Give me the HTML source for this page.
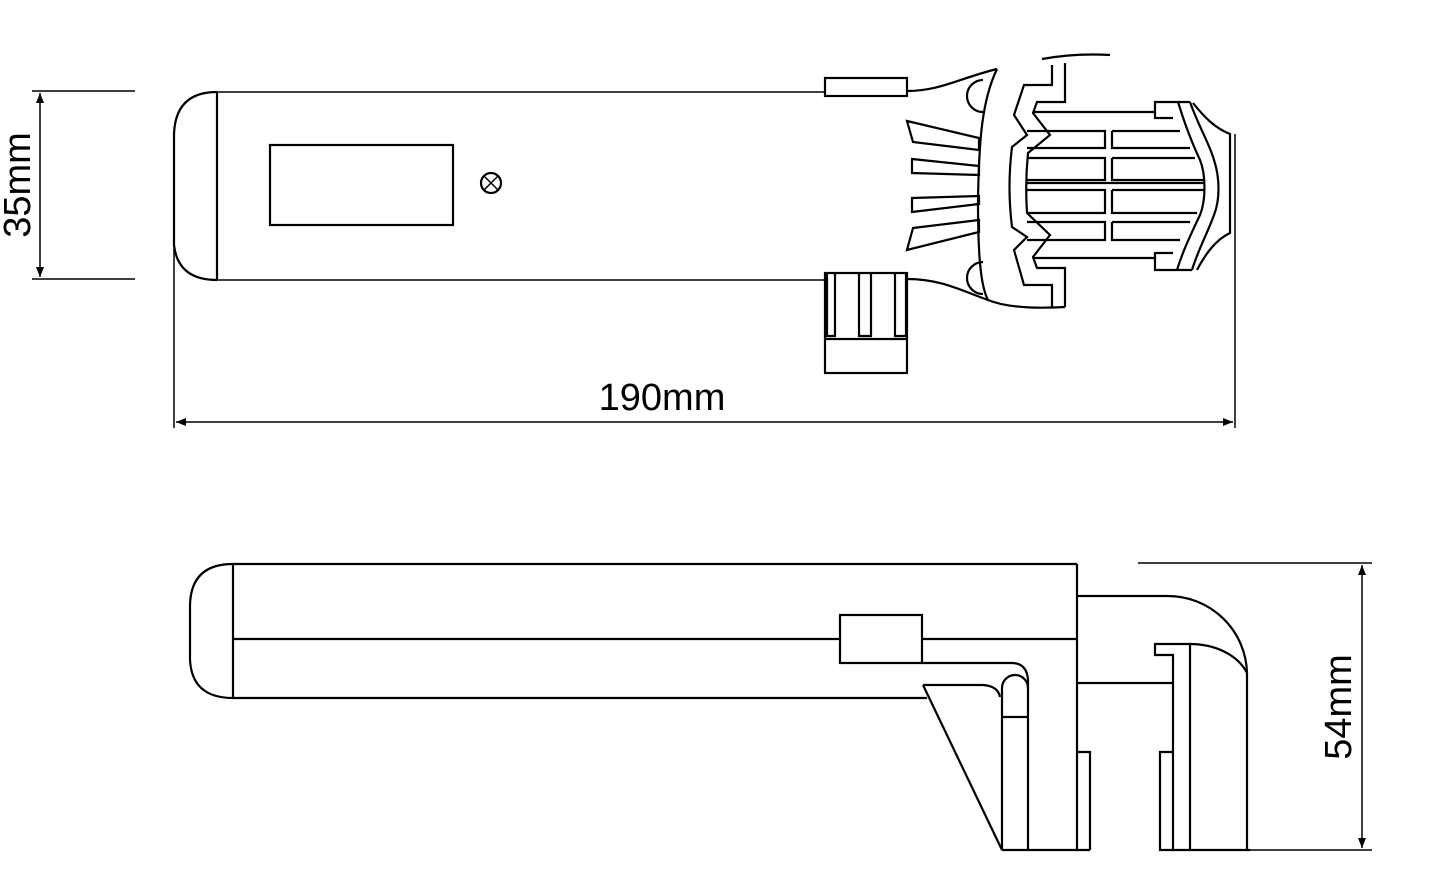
<!DOCTYPE html>
<html><head><meta charset="utf-8"><style>
html,body{margin:0;padding:0;background:#fff;}
svg{display:block}
text{font-family:"Liberation Sans",sans-serif;fill:#000}
</style></head><body>
<svg width="1438" height="895" viewBox="0 0 1438 895" xmlns="http://www.w3.org/2000/svg">
<defs>
<marker id="a" viewBox="0 0 10 10" refX="10" refY="5" markerWidth="18" markerHeight="10" markerUnits="userSpaceOnUse" orient="auto-start-reverse"><path d="M0,1 L10,5 L0,9 z" fill="#000"/></marker>
</defs>
<g fill="none" stroke="#000" stroke-width="2.2">
<!-- TOP VIEW -->
<line x1="32" y1="91" x2="135" y2="91" stroke-width="1.5"/>
<line x1="32" y1="279" x2="135" y2="279" stroke-width="1.5"/>
<line x1="40" y1="93" x2="40" y2="277" stroke-width="1.5" marker-start="url(#a)" marker-end="url(#a)"/>
<path d="M217,92 Q175,92 174,135 V245 Q178,280 217,280"/>
<line x1="174" y1="245" x2="174" y2="428" stroke-width="1.5"/>
<line x1="217" y1="92" x2="217" y2="280"/>
<line x1="217" y1="92" x2="825" y2="92" stroke-width="1.5"/>
<line x1="217" y1="280" x2="825" y2="280" stroke-width="1.5"/>
<rect x="270" y="145" width="183" height="80"/>
<circle cx="491" cy="183" r="10"/>
<path d="M484,176 L498,190 M498,176 L484,190" stroke-width="1.5"/>
<rect x="825" y="78" width="82" height="18"/>
<path d="M907,91 C940,91 960,78 997,69"/>
<path d="M983,80 A16,16 0 0 0 983,112"/>
<path d="M983,262 A16,16 0 0 0 983,294"/>
<path d="M997,69 C982,100 979,140 978,200 C978,250 980,285 988,300 C1005,307 1030,309 1065,307"/>
<rect x="825" y="273" width="82" height="100"/>
<path d="M827,273 V336 H835 V273 M859,273 V336 H871 V273 M895,273 V336 H906 V273 M825,339 H907"/>
<path d="M907,279 C940,279 960,290 988,300"/>
<path d="M907,121 L979,138 L979,150 L913,142 Z"/>
<path d="M912,159 L979,166 L979,175 L912,173 Z"/>
<path d="M912,198 L979,196 L979,204 L912,212 Z"/>
<path d="M913,228 L979,220 L979,232 L907,250 Z"/>
<path d="M1052,65 V85 H1024 L1014,115 L1027,135 L1012,147 Q1007,187 1012,227 L1027,237 L1014,250 L1024,285 H1052 V307"/>
<path d="M1065,63 V102 H1037 L1033,113 L1050,135 L1028,153 Q1025,183 1027,213 L1050,235 L1033,257 L1037,268 H1065 V307"/>
<path d="M1042,59 Q1075,53 1110,55"/>
<path d="M1033,112 H1155 V102 H1190 M1033,258 H1155 V270 H1192"/>
<path d="M1155,112 V118 H1173 M1155,258 V253 H1173"/>
<path d="M1027,131 H1105 V148 H1027 M1112,131 H1180 M1112,131 V148 H1190"/>
<path d="M1027,158 H1105 V180 H1027 M1112,158 H1195 M1112,158 V180 H1205"/>
<path d="M1027,183 H1205"/>
<path d="M1027,190 H1105 V213 H1027 M1112,190 H1205 M1112,190 V213 H1197"/>
<path d="M1027,222 H1105 V240 H1027 M1112,222 H1190 M1112,222 V240 H1180"/>
<path d="M1178,102 C1185,125 1193,145 1200,160 C1206,175 1206,200 1200,215 C1193,230 1183,250 1177,270"/>
<path d="M1190,102 C1198,125 1210,145 1214,160 C1220,178 1220,200 1214,215 C1208,232 1198,250 1192,270"/>
<path d="M1193,103 C1205,118 1215,128 1230,134 V233 C1215,240 1205,255 1197,270"/>
<line x1="1235" y1="134" x2="1235" y2="428" stroke-width="1.5"/>
<line x1="176" y1="422" x2="1233" y2="422" stroke-width="1.5" marker-start="url(#a)" marker-end="url(#a)"/>
<!-- BOTTOM VIEW -->
<path d="M233,564 Q191,564 190,605 V660 Q192,698 233,698"/>
<line x1="233" y1="564" x2="233" y2="698"/>
<line x1="233" y1="564" x2="1077" y2="564"/>
<line x1="233" y1="639" x2="840" y2="639"/>
<rect x="840" y="615" width="82" height="48"/>
<line x1="922" y1="639" x2="1077" y2="639"/>
<line x1="233" y1="698" x2="927" y2="698"/>
<path d="M922,663 H1013 Q1027,664 1028,680 V850"/>
<path d="M1002,850 V688 A13,13 0 0 1 1028,688"/>
<line x1="1002" y1="717" x2="1028" y2="717"/>
<path d="M923,685 H983 Q998,686 1000,697"/>
<line x1="923" y1="685" x2="1002" y2="850"/>
<line x1="1002" y1="850" x2="1090" y2="850"/>
<line x1="1077" y1="564" x2="1077" y2="850"/>
<path d="M1077,752 H1090 V850"/>
<path d="M1077,596 H1168 A79,79 0 0 1 1247,673 V850"/>
<line x1="1077" y1="683" x2="1173" y2="683"/>
<path d="M1173,850 V655 H1155 V644 H1190 V850"/>
<path d="M1190,644 C1215,644 1238,655 1247,673"/>
<path d="M1173,752 H1160 V850 H1250"/>
<line x1="1138" y1="563" x2="1372" y2="563" stroke-width="1.5"/>
<line x1="1250" y1="850" x2="1372" y2="850" stroke-width="1.5"/>
<line x1="1362" y1="565" x2="1362" y2="848" stroke-width="1.5" marker-start="url(#a)" marker-end="url(#a)"/>
</g>
<text x="662" y="410" font-size="38" text-anchor="middle">190mm</text>
<text transform="translate(30,185) rotate(-90)" font-size="38" text-anchor="middle">35mm</text>
<text transform="translate(1351,707) rotate(-90)" font-size="38" text-anchor="middle">54mm</text>
</svg>
</body></html>
